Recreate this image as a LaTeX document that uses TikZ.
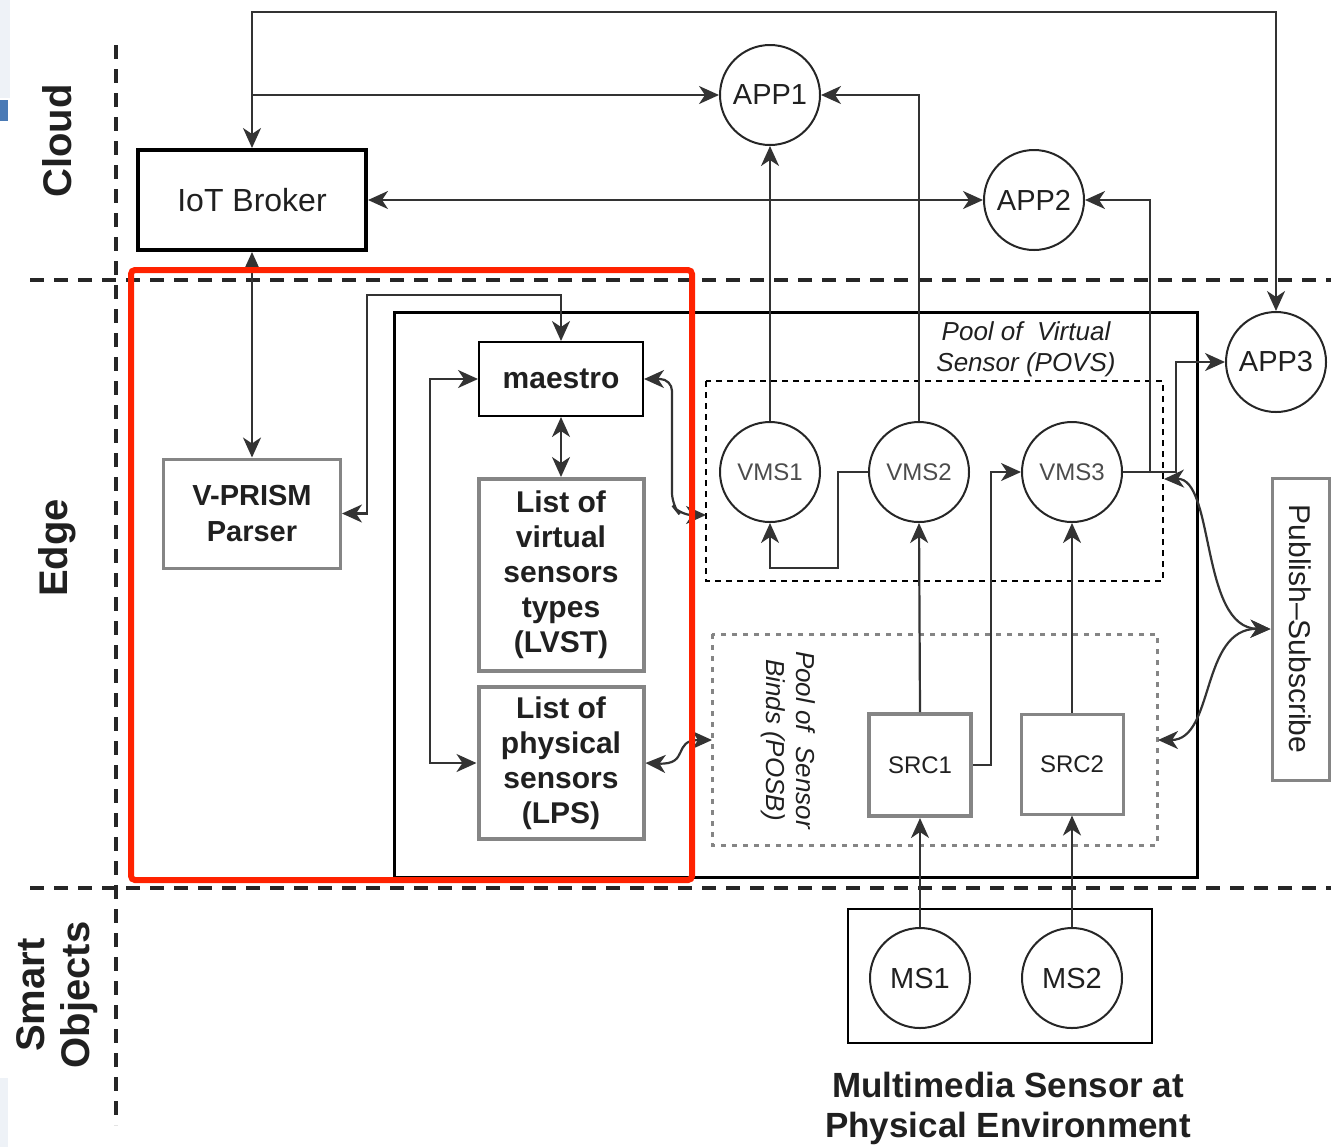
\documentclass[tikz,border=0pt]{standalone}
\usepackage{fontspec}
\setmainfont{Liberation Sans}
\usetikzlibrary{arrows.meta,calc}
\definecolor{linec}{HTML}{333333}
\definecolor{grayb}{HTML}{858585}
\definecolor{redb}{HTML}{FF2200}
\definecolor{txt}{HTML}{202020}
\newcommand\myfs[2]{\fontsize{#1}{#2}\selectfont}
\begin{document}
\begin{tikzpicture}[x=0.5pt,y=-0.5pt,
  myarr/.tip={Stealth[length=10pt,width=9pt,inset=3pt]},
  conn/.style={draw=linec, line width=1.1pt, -myarr},
  bi/.style={draw=linec, line width=1.1pt, myarr-myarr},
  circ/.style={circle, draw=black!85, line width=1pt, minimum size=50pt, inner sep=0pt, text=txt, font=\myfs{14.5}{17}},
  vcirc/.style={circ, text=black!70, font=\myfs{12}{14}},
  graybox/.style={draw=grayb, line width=2pt, inner sep=0pt, align=center, text=txt},
  blackbox/.style={draw=black, line width=1pt, inner sep=0pt, align=center, text=txt},
  sep/.style={draw=black!85, line width=2pt, dash pattern=on 7pt off 5pt},
  lane/.style={rotate=90, font=\bfseries\myfs{20}{22.5}, align=center, text=txt}
]
\useasboundingbox (0,0) rectangle (1331,1147);
% screenshot edge artefacts
\fill[fill={rgb,255:red,238;green,242;blue,247}] (0,0) rectangle (10,98);
\fill[fill={rgb,255:red,74;green,122;blue,181}] (0,100) rectangle (8,121);
\fill[fill={rgb,255:red,238;green,242;blue,247}] (0,1078) rectangle (8,1147);

% lane separators
\draw[sep] (116,45) -- (116,1125);
\draw[sep] (30,280) -- (1331,280);
\draw[sep] (30,888) -- (1331,888);

% lane labels
\node[lane] (lcloud) at (57,141) {Cloud};
\node[lane] (ledge) at (57,548) {Edge};
\node[lane] (lsmart) at (57,995) {Smart\\Objects};

% containers
\draw[black, line width=1.5pt] (394,312) rectangle (1197,877);
\draw[black, line width=0.75pt, dash pattern=on 3pt off 2.5pt] (706,381) rectangle (1163,581);
\draw[grayb, line width=1.5pt, dash pattern=on 2.5pt off 3pt] (712,634) rectangle (1157,845);
\draw[black, line width=1pt] (848,909) rectangle (1152,1043);

\node[text=txt, font=\itshape\myfs{13}{15.5}, align=center] (povslbl) at (1026,349) {Pool of\ \ Virtual\\Sensor (POVS)};
\node[text=txt, font=\itshape\myfs{13}{15}, align=center, rotate=-90] (posblbl) at (788,740) {Pool of\ \ Sensor\\Binds (POSB)};

% nodes
\node[blackbox, line width=2pt, minimum width=114pt, minimum height=50pt, font=\myfs{16}{19}] (broker) at (252,200) {IoT Broker};
\node[graybox, line width=1.5pt, minimum width=88.5pt, minimum height=54.5pt, font=\bfseries\myfs{14.5}{18}] (parser) at (252,513.5) {V-PRISM\\Parser};
\node[blackbox, minimum width=82pt, minimum height=37pt, font=\bfseries\myfs{15}{18}] (maestro) at (561,379) {maestro};
\node[graybox, minimum width=82.5pt, minimum height=96pt, font=\bfseries\myfs{15}{17.5}] (lvst) at (561,575) {List of\\virtual\\sensors\\types\\(LVST)};
\node[graybox, minimum width=82.5pt, minimum height=76pt, font=\bfseries\myfs{15}{17.5}] (lps) at (561,763) {List of\\physical\\sensors\\(LPS)};

\node[circ] (app1) at (770,95) {APP1};
\node[circ] (app2) at (1034,200) {APP2};
\node[circ] (app3) at (1276,362) {APP3};
\node[vcirc] (vms1) at (770,472) {VMS1};
\node[vcirc] (vms2) at (919,472) {VMS2};
\node[vcirc] (vms3) at (1072,472) {VMS3};
\node[circ] (ms1) at (920,978) {MS1};
\node[circ] (ms2) at (1072,978) {MS2};

\node[graybox, minimum width=51pt, minimum height=51pt, font=\myfs{12}{14}] (src1) at (920,765) {SRC1};
\node[graybox, line width=1.5pt, minimum width=51pt, minimum height=50pt, font=\myfs{12}{14}] (src2) at (1072,764) {SRC2};
\node[graybox, line width=1.5pt, minimum width=151pt, minimum height=28.5pt, rotate=-90, font=\myfs{15}{18}] (pubsub) at (1300.5,629) {Publish--Subscribe};

\node[text=txt, font=\bfseries\myfs{17.5}{20}, align=center] (mmlbl) at (1008,1108) {Multimedia\ Sensor at\\Physical Environment};

% helper coordinates
\coordinate (top) at (252,12);
\coordinate (k1) at (838,568);
\coordinate (k2) at (991,765);
\coordinate (k3) at (367,295);
\coordinate (k4) at (430,763);
\coordinate (j2) at (1150,472);
\coordinate (j3) at (1176,472);
\coordinate (p1) at (706,515);
\coordinate (p2) at (712,740);
\coordinate (p3) at (1164,479);
\coordinate (p4) at (1158,740);

% connectors
\draw[bi] (broker.north) -- (top) -| (app3.north);
\draw[conn] (broker.north |- app1.west) -- (app1.west);
\draw[bi] (broker.east) -- (app2.west);
\draw[bi] (broker.south) -- (parser.north);
\draw[conn] (vms1.north) -- (app1.south);
\draw[conn] (vms2.north) |- (app1.east);
\draw[conn] (vms3.east) -- (j2) |- (app2.east);
\draw[conn] (vms3.east) -- (j3) |- (app3.west);
\draw[conn] (vms2.west) -| (k1) -| (vms1.south);
\draw[conn] (src1.north) -- (vms2.south);
\draw[conn] (src1.east) -- (k2) |- (vms3.west);
\draw[conn] (src2.north) -- (vms3.south);
\draw[conn] (ms1.north) -- (src1.south);
\draw[conn] (ms2.north) -- (src2.south);

\draw[bi] (parser.east) -| (k3) -| (maestro.north);
\draw[bi] (maestro.south) -- (lvst.north);
\draw[bi] (maestro.west) -| (k4) -- (lps.west);
\draw[bi, rounded corners=6pt] (maestro.east) -- (672,379) -- (672,505) -- (680,515) -- (p1);
\draw[bi] (lps.east) .. controls (690,765) and (672,740) .. (p2);
\draw[bi] (p3) .. controls (1215,478) and (1200,628) .. (pubsub.south);
\draw[bi] (p4) .. controls (1215,740) and (1200,628) .. (pubsub.south);

% highlight
\draw[redb, line width=3pt, rounded corners=2pt] (131,270) rectangle (692,880);
\end{tikzpicture}
\end{document}
